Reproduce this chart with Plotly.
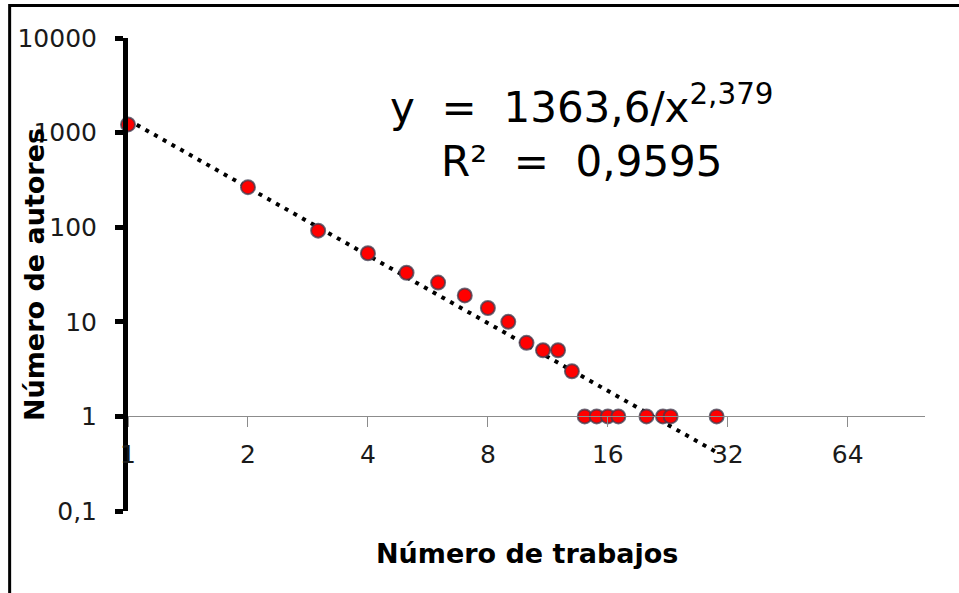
import numpy as np
import plotly.graph_objects as go

# Data (Lotka distribution)
trabajos = [1, 2, 3, 4, 5, 6, 7, 8, 9, 10, 11, 12, 13, 14, 15, 16, 17, 20, 22, 23, 30]
autores = [1220, 265, 92, 53, 33, 26, 19, 14, 10, 6, 5, 5, 3, 1, 1, 1, 1, 1, 1, 1, 1]

# Power trend line reported on the chart: y = 1363.6 / x^2.379
coef_a = 1363.6
coef_b = 2.379

x_tickvals = [1, 2, 4, 8, 16, 32, 64]
x_ticktext = ["1", "2", "4", "8", "16", "32", "64"]
y_tickvals = [0.1, 1, 10, 100, 1000, 10000]
y_ticktext = ["0,1", "1", "10", "100", "1000", "10000"]

trend_x = np.geomspace(min(trabajos), max(trabajos), 200)
trend_y = coef_a / trend_x ** coef_b

FONT = "DejaVu Sans"

fig = go.Figure()

fig.add_trace(go.Scatter(
    x=trend_x, y=trend_y, mode="lines",
    line=dict(color="black", width=4, dash="4px,6px"),
    hoverinfo="skip", showlegend=False,
))

fig.add_trace(go.Scatter(
    x=trabajos, y=autores, mode="markers",
    marker=dict(color="#ff0000", size=14,
                line=dict(color="rgba(60,60,80,0.75)", width=2)),
    cliponaxis=False, showlegend=False,
))

fig.update_layout(
    width=959, height=593,
    margin=dict(l=128, r=34, t=38, b=82),
    paper_bgcolor="white", plot_bgcolor="white",
    font=dict(family=FONT, color="#1a1a1a"),
    xaxis=dict(
        type="log", range=[0, 2],
        tickvals=x_tickvals, ticktext=x_ticktext,
        showgrid=False, zeroline=False,
        showline=True, linecolor="#8c8c8c", linewidth=1,
        ticks="outside", ticklen=10, tickcolor="#8c8c8c", tickwidth=1,
        tickfont=dict(size=25, family=FONT, color="#1a1a1a"),
        anchor="free", position=0.2,
        ticklabelstandoff=6,
    ),
    yaxis=dict(
        type="log", range=[-1, 4],
        tickvals=y_tickvals, ticktext=y_ticktext,
        showgrid=False, zeroline=False,
        showline=True, linecolor="black", linewidth=5,
        ticks="outside", ticklen=8, tickcolor="black", tickwidth=5,
        tickfont=dict(size=25, family=FONT, color="#1a1a1a"),
        ticklabelstandoff=13,
    ),
    annotations=[
        dict(text="Número de autores", xref="paper", yref="paper",
             x=-0.1165, y=0.499, textangle=-90, showarrow=False,
             font=dict(size=27, family=FONT, color="black", weight="bold"),
             xanchor="center", yanchor="middle"),
        dict(text="Número de trabajos", xref="paper", yref="paper",
             x=0.5, y=-0.0888, showarrow=False,
             font=dict(size=27, family=FONT, color="black", weight="bold"),
             xanchor="center", yanchor="middle"),
        dict(text="y  =  1363,6/x<sup>2,379</sup><br>R²  =  0,9595",
             xref="paper", yref="paper", x=0.570, y=0.803,
             showarrow=False, align="center",
             font=dict(size=42, family=FONT, color="black"),
             xanchor="center", yanchor="middle"),
    ],
    shapes=[
        dict(type="rect", xref="paper", yref="paper",
             x0=-0.1485, x1=1.2, y0=-0.3, y1=1.0687,
             line=dict(color="black", width=3), layer="below"),
    ],
)

fig.write_html("out.html", config={"displayModeBar": False},
               post_script="document.body.style.margin='0';")
